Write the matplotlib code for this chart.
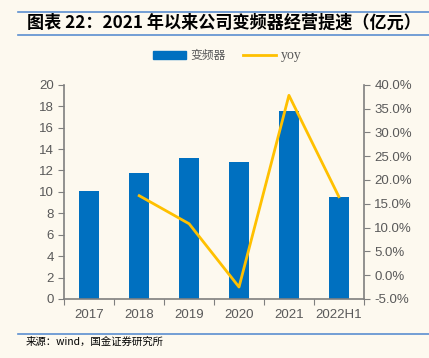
import matplotlib
matplotlib.use("Agg")
import matplotlib.pyplot as plt
from matplotlib.lines import Line2D
from matplotlib.patches import Patch
from matplotlib.ticker import FuncFormatter, MultipleLocator

plt.rcParams['font.family'] = ['Noto Sans CJK SC', 'DejaVu Sans']

categories = ["2017", "2018", "2019", "2020", "2021", "2022H1"]
revenue = [10.1, 11.8, 13.15, 12.8, 17.6, 9.55]
yoy_x = ["2018", "2019", "2020", "2021", "2022H1"]
yoy = [16.7, 10.8, -2.5, 37.8, 16.5]

bg = "#FDF9EF"
bar_color = "#0070C0"
line_color = "#FFC000"
axis_color = "#7F7F7F"
text_color = "#595959"
num_font = ['Liberation Sans', 'DejaVu Sans']

fig = plt.figure(figsize=(4.29, 3.58), dpi=100, facecolor=bg)
ax = fig.add_axes([0.150, 0.165, 0.698, 0.598], facecolor=bg)
ax2 = ax.twinx()

x = list(range(len(categories)))
ax.bar(x, revenue, width=0.4, color=bar_color, zorder=2)
xi = [categories.index(c) for c in yoy_x]
ax2.plot(xi, yoy, color=line_color, lw=2.0, zorder=3)

ax.set_xlim(-0.5, len(categories) - 0.5)
ax.set_ylim(0, 20)
ax.yaxis.set_major_locator(MultipleLocator(2))
ax2.set_ylim(-5, 40)
ax2.yaxis.set_major_locator(MultipleLocator(5))
ax2.yaxis.set_major_formatter(FuncFormatter(lambda v, p: f"{v:.1f}%"))

ax.set_xticks([i - 0.5 for i in range(len(categories) + 1)], minor=False)
ax.set_xticklabels([])
ax.set_xticks(x, minor=True)
ax.set_xticklabels(categories, minor=True)
ax.tick_params(axis='x', which='minor', length=0, pad=7, labelsize=9.5, labelcolor=text_color)
ax.tick_params(axis='x', which='major', length=4, color=axis_color, direction='out')
ax.tick_params(axis='y', length=4, color=axis_color, labelsize=9.5, labelcolor=text_color, direction='out')
ax2.tick_params(axis='y', length=4, color=axis_color, labelsize=9.5, labelcolor=text_color, direction='out')
for lab in ax.get_xticklabels(minor=True) + ax.get_yticklabels() + ax2.get_yticklabels():
    lab.set_family(num_font)

for a in (ax, ax2):
    for s in a.spines.values():
        s.set_visible(False)
ax.spines['left'].set_visible(True)
ax.spines['bottom'].set_visible(True)
ax2.spines['right'].set_visible(True)
for s in (ax.spines['left'], ax.spines['bottom'], ax2.spines['right']):
    s.set_color(axis_color)
    s.set_linewidth(1.2)

handles = [Patch(color=bar_color, label="变频器"),
           Line2D([0], [0], color=line_color, lw=2, label="yoy")]
leg = fig.legend(handles=handles, loc='center', bbox_to_anchor=(0.53, 0.845), ncol=2,
                 frameon=False, fontsize=8.5, labelcolor=text_color, handlelength=2.8,
                 handleheight=0.6, columnspacing=1.5, handletextpad=0.4)
leg.get_texts()[1].set_family(['Liberation Serif', 'DejaVu Serif'])
leg.get_texts()[1].set_fontsize(10)

# title with rules
fig.add_artist(Line2D([18/429, 1], [1 - 11.5/358] * 2, color="#5B8FD0", lw=1.2))
fig.add_artist(Line2D([18/429, 1], [1 - 34.5/358] * 2, color="#5B8FD0", lw=1.2))
fig.text(27/429, 1 - 23/358, "图表 22：2021 年以来公司变频器经营提速（亿元）",
         fontsize=12.3, fontweight='bold', style='italic', va='center', ha='left', color='black')

fig.add_artist(Line2D([18/429, 1], [1 - 333.5/358] * 2, color="#5B8FD0", lw=1.2))
fig.text(26/429, 1 - 342/358, "来源：wind，国金证券研究所", fontsize=7.5,
         va='center', ha='left', color='black')

fig.savefig("out.png", dpi=100, facecolor=bg)
